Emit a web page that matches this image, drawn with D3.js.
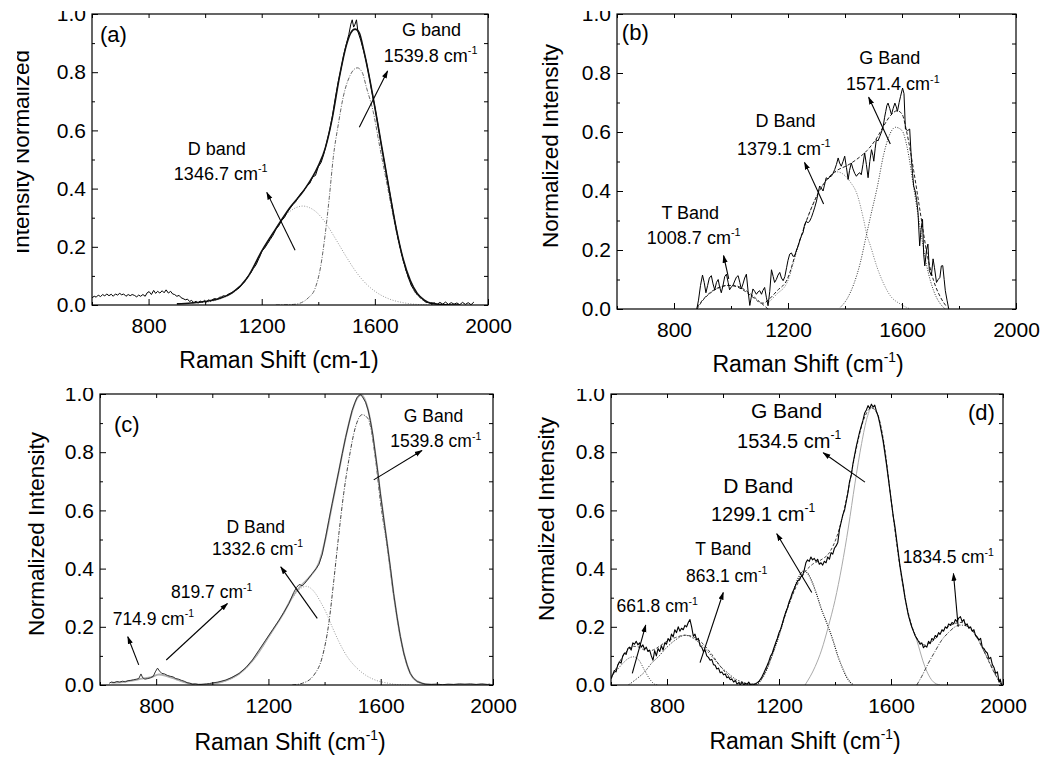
<!DOCTYPE html>
<html>
<head>
<meta charset="utf-8">
<script src="https://cdn.jsdelivr.net/npm/d3@7"></script>
<style>
  html, body { margin: 0; padding: 0; background: #fff; }
  svg { display: block; font-family: Arial, "Liberation Sans", sans-serif; }
</style>
</head>
<body>
<svg id="fig" width="1043" height="760"></svg>
<script>
// --- DATA: Raman shift (cm-1) vs normalized intensity ---
const xMajor = [800, 1200, 1600, 2000];
const xMinor = [600, 1000, 1400, 1800];
const yMajor = [0, 0.2, 0.4, 0.6, 0.8, 1.0];
const yMinor = [0.1, 0.3, 0.5, 0.7, 0.9];

// (a)
const measuredA = [[600,.025],[608,.03],[615,.027],[622,.034],[630,.029],[638,.036],[645,.031],[652,.038],[660,.032],[668,.037],[675,.03],[683,.038],[690,.034],[698,.04],[705,.035],[712,.038],[720,.03],[728,.036],[735,.032],[742,.036],[750,.033],[758,.028],[765,.034],[772,.03],[780,.036],[788,.03],[795,.042],[802,.046],[810,.036],[818,.05],[825,.04],[832,.047],[840,.041],[848,.049],[855,.042],[862,.052],[870,.041],[878,.047],[885,.038],[892,.036],[900,.03],[908,.033],[915,.025],[922,.022],[930,.018],[938,.02],[945,.012],[952,.016],[960,.008],[968,.013],[975,.006],[982,.014],[990,.009],[998,.016],[1005,.01],[1012,.018],[1020,.013],[1028,.02],[1035,.022],[1042,.019],[1050,.026],[1058,.028],[1065,.032],[1072,.03],[1080,.036],[1088,.04],[1095,.043],[1102,.048],[1110,.052],[1120,.058],[1130,.07],[1140,.08],[1150,.098],[1160,.108],[1170,.125],[1180,.138],[1190,.16],[1195,.17],[1200,.185],[1210,.195],[1220,.21],[1230,.225],[1240,.24],[1250,.26],[1260,.272],[1270,.29],[1280,.3],[1290,.318],[1300,.332],[1310,.345],[1320,.355],[1330,.372],[1340,.385],[1350,.395],[1360,.41],[1370,.418],[1380,.44],[1390,.445],[1400,.475],[1410,.49],[1420,.52],[1430,.56],[1440,.6],[1450,.65],[1460,.71],[1470,.765],[1480,.81],[1490,.86],[1500,.9],[1508,.93],[1515,.965],[1520,.98],[1525,.955],[1530,.965],[1535,.98],[1540,.94],[1550,.91],[1560,.875],[1570,.835],[1580,.785],[1590,.73],[1600,.68],[1610,.625],[1620,.565],[1630,.51],[1640,.455],[1650,.4],[1660,.345],[1670,.29],[1680,.24],[1690,.195],[1700,.155],[1710,.12],[1720,.09],[1730,.065],[1740,.05],[1750,.035],[1760,.03],[1770,.018],[1780,.01],[1790,.008],[1800,.004],[1810,.008],[1820,.002],[1830,.009],[1840,.003],[1850,.01],[1860,.002],[1870,.008],[1880,.003],[1890,.007],[1900,.001],[1910,.009],[1920,.002],[1930,.008],[1940,.001],[1950,.01]];
const fitA = [[900,.004],[950,.007],[1000,.012],[1050,.022],[1100,.045],[1150,.095],[1200,.185],[1250,.262],[1300,.335],[1350,.395],[1400,.478],[1425,.54],[1450,.645],[1475,.785],[1500,.895],[1515,.935],[1530,.948],[1545,.935],[1560,.878],[1575,.81],[1600,.68],[1625,.54],[1650,.4],[1675,.265],[1700,.158],[1725,.085],[1750,.04],[1775,.017],[1800,.006],[1850,.001],[1900,0]];
const dBandA = [[1000,.008],[1050,.02],[1100,.043],[1150,.092],[1200,.18],[1240,.245],[1270,.295],[1300,.322],[1320,.334],[1345,.34],[1370,.334],[1400,.313],[1430,.276],[1465,.221],[1500,.164],[1535,.112],[1570,.072],[1605,.044],[1650,.021],[1700,.008],[1750,.002],[1800,0]];
const gBandA = [[1250,0],[1312,.002],[1340,.008],[1365,.025],[1388,.055],[1408,.13],[1424,.24],[1439,.37],[1453,.507],[1471,.622],[1488,.714],[1512,.788],[1538,.815],[1555,.8],[1571,.745],[1594,.665],[1618,.54],[1641,.425],[1665,.305],[1688,.2],[1712,.112],[1735,.055],[1760,.024],[1800,.005],[1850,0]];
const arrowsA = [[[1318,.188],[1218,.387]], [[1545,.611],[1645,.804]]];
const labelsA = [
  {text: "(a)", x: 628, y: .931, size: 22, anchor: "start"},
  {text: "D band", x: 1041, y: .539, size: 18},
  {text: "1346.7 cm", sup: "-1", x: 1055, y: .453, size: 18},
  {text: "G band", x: 1800, y: .947, size: 18},
  {text: "1539.8 cm", sup: "-1", x: 1797, y: .859, size: 18}
];

// (b)
const measuredB = [[880,0],[886,.03],[893,.08],[900,.115],[906,.09],[912,.055],[918,.08],[924,.105],[931,.113],[937,.085],[943,.065],[949,.09],[955,.1],[960,.075],[966,.055],[972,.08],[978,.11],[984,.118],[990,.09],[995,.065],[1001,.075],[1007,.08],[1013,.095],[1019,.108],[1025,.113],[1031,.09],[1036,.068],[1042,.085],[1048,.105],[1054,.118],[1060,.06],[1066,.012],[1071,.04],[1077,.068],[1083,.06],[1089,.05],[1095,.058],[1101,.062],[1107,.05],[1112,.063],[1118,.073],[1124,.04],[1130,.011],[1136,.06],[1142,.133],[1148,.11],[1153,.09],[1159,.1],[1165,.115],[1171,.124],[1177,.105],[1183,.096],[1189,.11],[1195,.14],[1200,.165],[1206,.186],[1212,.19],[1218,.178],[1224,.182],[1230,.2],[1236,.215],[1242,.235],[1248,.25],[1253,.259],[1258,.285],[1264,.298],[1270,.292],[1276,.298],[1282,.31],[1288,.327],[1294,.345],[1300,.366],[1305,.39],[1311,.417],[1317,.41],[1323,.4],[1328,.42],[1334,.445],[1340,.44],[1346,.448],[1352,.45],[1358,.46],[1364,.473],[1370,.49],[1376,.512],[1381,.495],[1387,.484],[1393,.5],[1399,.518],[1405,.48],[1411,.439],[1416,.47],[1422,.495],[1428,.475],[1434,.46],[1440,.45],[1446,.458],[1452,.462],[1457,.455],[1463,.49],[1469,.529],[1475,.49],[1481,.445],[1487,.5],[1493,.54],[1498,.52],[1501,.501],[1506,.545],[1510,.574],[1516,.57],[1522,.585],[1528,.6],[1534,.619],[1539,.65],[1543,.67],[1547,.69],[1551,.698],[1557,.68],[1563,.659],[1569,.68],[1575,.698],[1580,.685],[1584,.67],[1590,.7],[1595,.721],[1602,.749],[1607,.73],[1612,.61],[1620,.605],[1627,.61],[1633,.507],[1637,.46],[1641,.417],[1646,.4],[1651,.372],[1656,.33],[1662,.214],[1667,.27],[1672,.304],[1676,.186],[1680,.146],[1686,.2],[1691,.22],[1696,.13],[1703,.113],[1709,.17],[1714,.14],[1721,.09],[1727,.1],[1733,.107],[1738,.146],[1743,.147],[1748,.1],[1752,.062],[1758,.03],[1764,0]];
const fitB = [[881,.006],[900,.03],[930,.058],[960,.074],[986,.08],[1010,.078],[1040,.066],[1070,.045],[1090,.03],[1103,.02],[1115,.02],[1130,.03],[1162,.062],[1197,.1],[1232,.205],[1267,.305],[1302,.385],[1337,.44],[1372,.47],[1407,.486],[1442,.508],[1477,.537],[1513,.582],[1536,.621],[1559,.655],[1583,.672],[1600,.661],[1618,.593],[1641,.469],[1665,.322],[1688,.186],[1711,.096],[1735,.04],[1758,.006]];
const tBandB = [[881,0],[900,.028],[930,.056],[960,.073],[990,.08],[1010,.08],[1040,.07],[1070,.05],[1100,.025],[1130,0]];
const dBandB = [[1130,.02],[1160,.05],[1197,.09],[1232,.2],[1267,.305],[1302,.385],[1337,.44],[1372,.465],[1400,.452],[1419,.43],[1442,.39],[1466,.3],[1477,.25],[1489,.215],[1513,.14],[1536,.085],[1559,.045],[1594,.017],[1629,0]];
const gBandB = [[1384,.006],[1407,.034],[1431,.085],[1454,.158],[1472,.237],[1489,.311],[1513,.412],[1536,.525],[1553,.582],[1577,.616],[1600,.605],[1618,.548],[1641,.412],[1665,.266],[1688,.141],[1711,.062],[1735,.017],[1752,0]];
const arrowsB = [[[992,.102],[974,.181]], [[1325,.356],[1258,.497]], [[1559,.559],[1483,.718]]];
const labelsB = [
  {text: "(b)", x: 617, y: .939, size: 22, anchor: "start"},
  {text: "T Band", x: 857, y: .328, size: 18},
  {text: "1008.7 cm", sup: "-1", x: 869, y: .243, size: 18},
  {text: "D Band", x: 1191, y: .638, size: 18},
  {text: "1379.1 cm", sup: "-1", x: 1185, y: .545, size: 18},
  {text: "G Band", x: 1557, y: .853, size: 18},
  {text: "1571.4 cm", sup: "-1", x: 1568, y: .763, size: 18}
];

// (c)
const measuredC = [[633,.006],[640,.01],[650,.008],[660,.012],[670,.01],[680,.013],[690,.011],[700,.015],[710,.016],[720,.018],[730,.02],[738,.022],[746,.038],[752,.025],[760,.02],[770,.022],[780,.025],[790,.03],[797,.045],[805,.058],[812,.048],[820,.04],[830,.038],[840,.033],[850,.03],[860,.028],[870,.022],[880,.02],[890,.016],[900,.013],[910,.008],[920,.006],[930,.003],[940,.004],[950,.002],[960,.002],[970,.003],[980,.004],[990,.005],[1000,.007],[1020,.01],[1048,.017],[1070,.026],[1096,.04],[1120,.06],[1143,.086],[1165,.118],[1190,.154],[1215,.19],[1238,.223],[1255,.25],[1273,.28],[1290,.318],[1300,.335],[1309,.345],[1315,.344],[1320,.34],[1330,.35],[1338,.36],[1356,.383],[1370,.4],[1380,.415],[1392,.45],[1404,.509],[1415,.565],[1427,.623],[1440,.685],[1451,.737],[1463,.795],[1475,.851],[1487,.9],[1498,.943],[1508,.97],[1516,.989],[1523,.995],[1528,.998],[1535,.99],[1546,.972],[1555,.945],[1563,.909],[1572,.86],[1581,.794],[1590,.73],[1599,.657],[1611,.57],[1623,.486],[1635,.4],[1646,.314],[1658,.235],[1670,.166],[1682,.11],[1694,.069],[1705,.04],[1717,.023],[1730,.012],[1747,.006],[1760,.003],[1780,.002],[1800,.003],[1820,.001],[1840,.003],[1860,.002],[1880,.004],[1900,.003],[1920,.004],[1940,.002],[1960,.004],[1980,.002],[1990,.003]];
const fitC = [[640,.008],[680,.01],[720,.016],[750,.022],[780,.026],[810,.036],[840,.03],[870,.02],[900,.01],[930,.003],[960,.001],[1000,.004],[1050,.016],[1100,.042],[1150,.092],[1200,.165],[1250,.24],[1290,.31],[1320,.345],[1350,.375],[1380,.42],[1404,.505],[1427,.62],[1451,.735],[1475,.85],[1498,.94],[1516,.985],[1530,.997],[1546,.975],[1563,.91],[1581,.794],[1599,.657],[1623,.486],[1646,.314],[1670,.166],[1694,.069],[1717,.023],[1747,.006],[1780,.001],[1850,0],[2000,0]];
const dBandC = [[1000,.003],[1050,.015],[1100,.04],[1150,.09],[1200,.163],[1250,.243],[1280,.29],[1300,.318],[1320,.335],[1335,.339],[1350,.333],[1368,.314],[1386,.285],[1404,.252],[1427,.2],[1451,.149],[1481,.097],[1510,.063],[1546,.034],[1581,.017],[1628,.006],[1664,.001],[1700,0]];
const gBandC = [[1285,0],[1321,.006],[1362,.034],[1392,.097],[1415,.211],[1433,.36],[1451,.52],[1468,.657],[1486,.771],[1510,.886],[1534,.929],[1555,.915],[1581,.78],[1599,.63],[1623,.475],[1646,.31],[1670,.165],[1694,.068],[1717,.022],[1747,.005],[1780,0]];
const arrowsC = [[[738,.069],[699,.166]], [[836,.086],[1054,.28]], [[1374,.229],[1244,.406]], [[1575,.705],[1747,.806]]];
const labelsC = [
  {text: "(c)", x: 650, y: .897, size: 22, anchor: "start"},
  {text: "714.9 cm", sup: "-1", x: 790, y: .229, size: 17.5},
  {text: "819.7 cm", sup: "-1", x: 998, y: .32, size: 17.5},
  {text: "D Band", x: 1155, y: .545, size: 17.5},
  {text: "1332.6 cm", sup: "-1", x: 1161, y: .469, size: 17.5},
  {text: "G Band", x: 1788, y: .926, size: 17.5},
  {text: "1539.8 cm", sup: "-1", x: 1796, y: .84, size: 17.5}
];

// (d)
const measuredD = [[600,.023],[606,.035],[612,.05],[618,.045],[624,.068],[630,.08],[636,.075],[642,.1],[648,.11],[654,.105],[660,.125],[666,.13],[672,.12],[678,.145],[684,.14],[690,.15],[696,.138],[702,.145],[708,.13],[714,.138],[720,.122],[726,.13],[732,.115],[738,.12],[744,.1],[750,.085],[756,.118],[762,.1],[768,.125],[774,.115],[780,.135],[786,.12],[792,.145],[798,.14],[804,.16],[810,.15],[816,.175],[822,.165],[828,.19],[834,.18],[840,.2],[846,.185],[852,.195],[858,.19],[864,.205],[870,.2],[876,.215],[882,.225],[888,.2],[894,.168],[900,.175],[906,.155],[912,.16],[918,.135],[924,.13],[930,.115],[936,.12],[942,.1],[948,.095],[954,.085],[960,.088],[966,.07],[972,.068],[978,.055],[984,.058],[990,.042],[996,.045],[1002,.035],[1008,.038],[1014,.025],[1020,.028],[1026,.018],[1032,.02],[1038,.01],[1044,.015],[1050,.003],[1056,.008],[1062,0],[1068,.01],[1074,0],[1080,.006],[1086,.002],[1092,.01],[1098,0],[1104,.004],[1110,0],[1116,.003],[1122,.008],[1128,.012],[1134,.02],[1140,.03],[1146,.042],[1152,.055],[1158,.068],[1164,.082],[1170,.1],[1176,.11],[1182,.128],[1188,.145],[1194,.16],[1200,.18],[1206,.192],[1212,.212],[1218,.232],[1224,.25],[1230,.265],[1236,.285],[1242,.3],[1248,.318],[1254,.33],[1260,.345],[1266,.356],[1272,.362],[1278,.372],[1284,.375],[1290,.395],[1296,.42],[1302,.43],[1308,.425],[1314,.44],[1320,.43],[1326,.435],[1332,.425],[1338,.432],[1344,.415],[1350,.42],[1356,.412],[1362,.425],[1368,.42],[1374,.44],[1380,.432],[1386,.455],[1392,.45],[1398,.47],[1404,.478],[1410,.49],[1416,.535],[1422,.56],[1428,.585],[1434,.6],[1440,.63],[1446,.66],[1452,.7],[1458,.72],[1464,.76],[1470,.79],[1476,.82],[1482,.845],[1488,.87],[1494,.89],[1500,.91],[1506,.935],[1512,.945],[1518,.96],[1524,.95],[1530,.965],[1536,.955],[1542,.962],[1548,.94],[1554,.925],[1560,.9],[1566,.87],[1572,.84],[1578,.8],[1584,.76],[1590,.715],[1596,.67],[1602,.625],[1608,.58],[1614,.545],[1620,.5],[1626,.455],[1632,.41],[1638,.375],[1644,.34],[1650,.3],[1656,.27],[1662,.24],[1668,.22],[1674,.2],[1680,.185],[1686,.17],[1692,.16],[1698,.15],[1704,.14],[1710,.145],[1716,.128],[1722,.135],[1728,.13],[1734,.15],[1740,.142],[1746,.16],[1752,.155],[1758,.17],[1764,.165],[1770,.18],[1776,.175],[1782,.19],[1788,.185],[1794,.2],[1800,.195],[1806,.21],[1812,.205],[1818,.215],[1824,.21],[1830,.225],[1836,.218],[1842,.23],[1848,.235],[1854,.218],[1860,.225],[1866,.205],[1872,.21],[1878,.195],[1884,.2],[1890,.185],[1896,.19],[1902,.17],[1908,.165],[1914,.155],[1920,.16],[1926,.13],[1932,.125],[1938,.115],[1944,.11],[1950,.09],[1956,.095],[1962,.07],[1968,.06],[1974,.04],[1980,.045],[1986,.01],[1990,.02],[1995,0]];
const fitD = [[600,.02],[620,.06],[640,.095],[660,.12],[680,.133],[700,.13],[720,.12],[740,.118],[760,.125],[780,.138],[800,.15],[830,.163],[865,.171],[900,.163],[930,.14],[960,.105],[990,.065],[1020,.032],[1050,.012],[1080,.003],[1110,.004],[1140,.025],[1170,.09],[1200,.175],[1230,.262],[1260,.335],[1290,.385],[1320,.415],[1350,.43],[1380,.455],[1410,.52],[1440,.635],[1470,.785],[1500,.905],[1530,.952],[1550,.935],[1575,.83],[1600,.64],[1630,.42],[1660,.255],[1690,.165],[1720,.138],[1750,.152],[1790,.19],[1830,.212],[1850,.215],[1880,.2],[1910,.16],[1940,.1],[1970,.04],[1995,.002]];
const band662D = [[600,.03],[620,.05],[640,.072],[660,.09],[680,.097],[700,.085],[720,.05],[740,.018],[755,.003],[765,0]];
const tBandD = [[662,0],[690,.02],[721,.046],[745,.075],[769,.097],[800,.13],[829,.154],[864,.171],[895,.16],[924,.137],[950,.11],[971,.086],[995,.06],[1019,.04],[1045,.02],[1067,.011],[1102,0]];
const dBandD = [[1120,0],[1130,.01],[1150,.04],[1175,.1],[1200,.17],[1225,.25],[1250,.318],[1270,.37],[1290,.392],[1305,.38],[1320,.35],[1335,.31],[1350,.265],[1376,.2],[1394,.15],[1410,.1],[1424,.065],[1440,.03],[1454,.01],[1465,0]];
const gBandD = [[1293,0],[1329,.063],[1352,.12],[1376,.2],[1400,.291],[1424,.406],[1448,.543],[1471,.691],[1495,.83],[1515,.92],[1531,.954],[1547,.94],[1567,.86],[1585,.745],[1602,.62],[1620,.49],[1638,.365],[1662,.24],[1692,.154],[1721,.063],[1751,.011],[1775,0]];
const band1834D = [[1692,0],[1710,.03],[1733,.074],[1757,.115],[1781,.154],[1805,.18],[1829,.2],[1845,.206],[1860,.205],[1876,.2],[1895,.18],[1912,.154],[1930,.12],[1948,.086],[1966,.05],[1983,.017],[1995,0]];
const arrowsD = [[[676,.04],[724,.206]], [[918,.077],[1001,.318]], [[1317,.318],[1192,.52]], [[1507,.697],[1358,.798]], [[1840,.2],[1823,.383]]];
const labelsD = [
  {text: "(d)", x: 1971, y: .938, size: 22, anchor: "end"},
  {text: "661.8 cm", sup: "-1", x: 765, y: .272, size: 17.5},
  {text: "T Band", x: 1001, y: .469, size: 17.5},
  {text: "863.1 cm", sup: "-1", x: 1013, y: .377, size: 17.5},
  {text: "D Band", x: 1126, y: .686, size: 21},
  {text: "1299.1 cm", sup: "-1", x: 1143, y: .589, size: 20},
  {text: "G Band", x: 1227, y: .943, size: 21},
  {text: "1534.5 cm", sup: "-1", x: 1236, y: .84, size: 20},
  {text: "1834.5 cm", sup: "-1", x: 1805, y: .44, size: 17.5}
];

// --- LAYOUT ---
const panels = [
  {
    id: "a", box: {left: 92, right: 488, top: 14, bottom: 305}, clip: [17, 11, 503, 369],
    yTitle: {text: "Intensity Normalized", x: 29, y: 152},
    xTitle: {text: "Raman Shift (cm-1)", x: 279, y: 368},
    series: [
      {data: dBandA, stroke: "#9a9a9a", width: 1, dash: "1,1.6", curve: true},
      {data: gBandA, stroke: "#666", width: 1, dash: "4,1.5,1,1.5", curve: true},
      {data: measuredA, stroke: "#000", width: 1},
      {data: fitA, stroke: "#111", width: 1.6, curve: true}
    ],
    arrows: arrowsA, labels: labelsA
  },
  {
    id: "b", box: {left: 617, right: 1016, top: 14, bottom: 309}, clip: [520, 11, 523, 369],
    yTitle: {text: "Normalized Intensity", x: 558, y: 146},
    xTitle: {text: "Raman Shift (cm", sup: "-1", tail: ")", x: 808, y: 372},
    series: [
      {data: tBandB, stroke: "#333", width: 1, dash: "3,2", curve: true},
      {data: dBandB, stroke: "#777", width: 1, dash: "1,1.5", curve: true},
      {data: gBandB, stroke: "#333", width: 1, dash: "1,1.5", curve: true},
      {data: fitB, stroke: "#222", width: 1, dash: "3.5,2", curve: true},
      {data: measuredB, stroke: "#000", width: 1}
    ],
    arrows: arrowsB, labels: labelsB
  },
  {
    id: "c", box: {left: 100, right: 493, top: 394, bottom: 685}, clip: [0, 388, 520, 372],
    yTitle: {text: "Normalized Intensity", x: 44, y: 534},
    xTitle: {text: "Raman Shift (cm", sup: "-1", tail: ")", x: 290, y: 750},
    series: [
      {data: dBandC, stroke: "#9a9a9a", width: 1, dash: "1,1.6", curve: true},
      {data: gBandC, stroke: "#444", width: 1, dash: "4,1.5,1,1.5", curve: true},
      {data: fitC, stroke: "#b0b0b0", width: 1.8, curve: true},
      {data: measuredC, stroke: "#333", width: 1}
    ],
    arrows: arrowsC, labels: labelsC
  },
  {
    id: "d", box: {left: 611, right: 1003, top: 394, bottom: 685}, clip: [520, 389, 523, 371],
    yTitle: {text: "Normalized Intensity", x: 554, y: 519},
    xTitle: {text: "Raman Shift (cm", sup: "-1", tail: ")", x: 805, y: 749},
    series: [
      {data: band662D, stroke: "#444", width: 1, dash: "1,1.5", curve: true},
      {data: tBandD, stroke: "#444", width: 1, dash: "1.5,1.5", curve: true},
      {data: dBandD, stroke: "#111", width: 1.2, dash: "1,1.2", curve: true},
      {data: gBandD, stroke: "#aaa", width: 1, curve: true},
      {data: band1834D, stroke: "#444", width: 1, dash: "4,1.5,1,1.5", curve: true},
      {data: fitD, stroke: "#444", width: 1, dash: "3,2", curve: true},
      {data: measuredD, stroke: "#000", width: 1.1}
    ],
    arrows: arrowsD, labels: labelsD
  }
];

// --- DRAW ---
const svg = d3.select("#fig");
const defs = svg.append("defs");
defs.append("marker")
    .attr("id", "arrowhead")
    .attr("viewBox", "0 0 10 10")
    .attr("refX", 9).attr("refY", 5)
    .attr("markerWidth", 8).attr("markerHeight", 8)
    .attr("markerUnits", "userSpaceOnUse")
    .attr("orient", "auto")
  .append("path")
    .attr("d", "M0,1.8L10,5L0,8.2z")
    .attr("fill", "#000");

function addLabel(g, t, x, y, size, anchor) {
  const text = g.append("text")
      .attr("x", x).attr("y", y)
      .attr("text-anchor", anchor || "middle")
      .attr("font-size", size)
      .attr("fill", "#000");
  text.append("tspan").text(t.text);
  if (t.sup) {
    text.append("tspan").attr("dy", -size * 0.42).attr("font-size", size * 0.6).text(t.sup);
    if (t.tail) text.append("tspan").attr("dy", size * 0.42).text(t.tail);
  }
  return text;
}

panels.forEach(p => {
  const b = p.box;
  defs.append("clipPath").attr("id", "clip-" + p.id)
    .append("rect").attr("x", p.clip[0]).attr("y", p.clip[1]).attr("width", p.clip[2]).attr("height", p.clip[3]);
  defs.append("clipPath").attr("id", "plot-" + p.id)
    .append("rect").attr("x", b.left).attr("y", b.top).attr("width", b.right - b.left).attr("height", b.bottom - b.top);

  const g = svg.append("g").attr("clip-path", `url(#clip-${p.id})`);
  const x = d3.scaleLinear().domain([600, 2000]).range([b.left, b.right]);
  const y = d3.scaleLinear().domain([0, 1]).range([b.bottom, b.top]);

  // curves
  const plot = g.append("g").attr("clip-path", `url(#plot-${p.id})`);
  p.series.forEach(s => {
    const line = d3.line().x(d => x(d[0])).y(d => y(d[1]))
      .curve(s.curve ? d3.curveMonotoneX : d3.curveLinear);
    plot.append("path")
      .datum(s.data)
      .attr("d", line)
      .attr("fill", "none")
      .attr("stroke", s.stroke)
      .attr("stroke-width", s.width)
      .attr("stroke-dasharray", s.dash || null)
      .attr("stroke-linejoin", "round");
  });

  // axes: inward ticks on all four sides
  const axisStyle = sel => {
    sel.select(".domain").remove();
    sel.selectAll(".tick line").attr("stroke", "#000").attr("stroke-width", 1);
    sel.selectAll("text").attr("font-size", 21).attr("fill", "#000")
      .attr("font-family", 'Arial, "Liberation Sans", sans-serif');
  };
  const fmtX = d3.format("d"), fmtY = d3.format(".1f");

  g.append("g").attr("transform", `translate(0,${b.bottom})`)
    .call(d3.axisBottom(x).tickValues(xMajor).tickSizeInner(-6).tickSizeOuter(0).tickPadding(13).tickFormat(fmtX))
    .call(axisStyle);
  g.append("g").attr("transform", `translate(0,${b.bottom})`)
    .call(d3.axisBottom(x).tickValues(xMinor).tickSizeInner(-3).tickSizeOuter(0).tickFormat(""))
    .call(axisStyle);
  g.append("g").attr("transform", `translate(0,${b.top})`)
    .call(d3.axisTop(x).tickValues(xMajor.concat(xMinor)).tickSizeInner(-4).tickSizeOuter(0).tickFormat(""))
    .call(axisStyle);
  g.append("g").attr("transform", `translate(${b.left},0)`)
    .call(d3.axisLeft(y).tickValues(yMajor).tickSizeInner(-6).tickSizeOuter(0).tickPadding(6).tickFormat(fmtY))
    .call(axisStyle);
  g.append("g").attr("transform", `translate(${b.left},0)`)
    .call(d3.axisLeft(y).tickValues(yMinor).tickSizeInner(-3).tickSizeOuter(0).tickFormat(""))
    .call(axisStyle);
  g.append("g").attr("transform", `translate(${b.right},0)`)
    .call(d3.axisRight(y).tickValues(yMajor.concat(yMinor)).tickSizeInner(-4).tickSizeOuter(0).tickFormat(""))
    .call(axisStyle);

  // frame
  g.append("rect")
    .attr("x", b.left).attr("y", b.top)
    .attr("width", b.right - b.left).attr("height", b.bottom - b.top)
    .attr("fill", "none").attr("stroke", "#000").attr("stroke-width", 1.2);

  // arrows
  g.selectAll("line.arrow").data(p.arrows).enter().append("line")
    .attr("class", "arrow")
    .attr("x1", d => x(d[0][0])).attr("y1", d => y(d[0][1]))
    .attr("x2", d => x(d[1][0])).attr("y2", d => y(d[1][1]))
    .attr("stroke", "#000").attr("stroke-width", 1.1)
    .attr("marker-end", "url(#arrowhead)");

  // annotations
  p.labels.forEach(l => {
    addLabel(g, l, x(l.x), y(l.y), l.size, l.anchor).attr("dy", "0.36em");
  });

  // axis titles
  addLabel(g, p.xTitle, p.xTitle.x, p.xTitle.y, 23);
  g.append("text")
    .attr("transform", `translate(${p.yTitle.x},${p.yTitle.y}) rotate(-90)`)
    .attr("text-anchor", "middle")
    .attr("font-size", 22.5)
    .attr("fill", "#000")
    .text(p.yTitle.text);
});
</script>
</body>
</html>
